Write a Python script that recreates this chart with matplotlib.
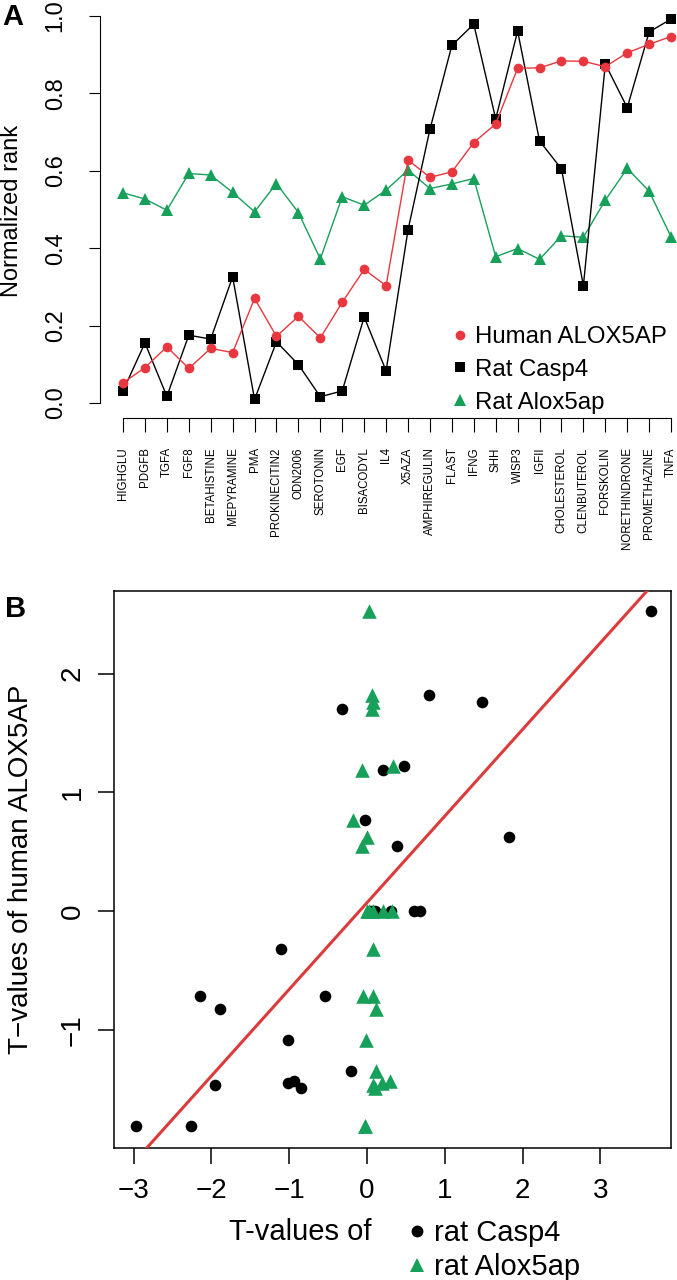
import matplotlib
matplotlib.use('Agg')
import matplotlib.pyplot as plt
import numpy as np
from matplotlib.lines import Line2D

plt.rcParams['font.family'] = ['Liberation Sans', 'DejaVu Sans']

# panel A: normalized ranks per treatment
treatments = ['HIGHGLU', 'PDGFB', 'TGFA', 'FGF8', 'BETAHISTINE', 'MEPYRAMINE', 'PMA',
              'PROKINECITIN2', 'ODN2006', 'SEROTONIN', 'EGF', 'BISACODYL', 'IL4', 'X5AZA',
              'AMPHIREGULIN', 'FLAST', 'IFNG', 'SHH', 'WISP3', 'IGFII', 'CHOLESTEROL',
              'CLENBUTEROL', 'FORSKOLIN', 'NORETHINDRONE', 'PROMETHAZINE', 'TNFA']
human_rank = [0.052, 0.091, 0.145, 0.089, 0.141, 0.130, 0.270, 0.172, 0.224, 0.168, 0.260,
              0.345, 0.303, 0.628, 0.583, 0.597, 0.673, 0.721, 0.865, 0.866, 0.884, 0.883,
              0.869, 0.905, 0.927, 0.947]
casp4_rank = [0.031, 0.155, 0.017, 0.175, 0.165, 0.326, 0.009, 0.158, 0.099, 0.016, 0.031,
              0.222, 0.083, 0.447, 0.707, 0.924, 0.979, 0.734, 0.961, 0.677, 0.605, 0.303,
              0.876, 0.763, 0.959, 0.992]
alox_rank = [0.543, 0.527, 0.498, 0.593, 0.589, 0.544, 0.494, 0.567, 0.492, 0.372, 0.533,
             0.511, 0.550, 0.602, 0.554, 0.566, 0.580, 0.378, 0.399, 0.371, 0.432, 0.428,
             0.524, 0.606, 0.547, 0.429]

# panel B: T-values
human_t = [2.53, 1.82, 1.76, 1.70, 1.22, 1.19, 0.77, 0.62, 0.55, 0.0, 0.0, 0.0, 0.0, 0.0,
           -0.32, -0.72, -0.72, -0.83, -1.09, -1.35, -1.43, -1.45, -1.47, -1.49, -1.81, -1.81]
casp4_t = [3.65, 0.80, 1.48, -0.32, 0.48, 0.20, -0.02, 1.83, 0.39, 0.10, 0.31, 0.61, 0.68, 0.05,
           -1.11, -2.15, -0.54, -1.89, -1.01, -0.20, -0.94, -1.01, -1.96, -0.85, -2.97, -2.26]
alox_t = [0.02, 0.06, 0.08, 0.06, 0.34, -0.07, -0.18, 0.00, -0.06, 0.02, 0.08, 0.21, 0.32, 0.0,
          0.08, -0.05, 0.08, 0.12, -0.01, 0.12, 0.30, 0.19, 0.08, 0.10, -0.03, -0.03]
fit_intercept = 0.07
fit_slope = 0.73

RED = '#e8373f'
GREEN = '#16a05a'
LINE_RED = '#dc3b3b'

W, H = 677, 1280
fig = plt.figure(figsize=(W / 100, H / 100), dpi=100)

# ---- panel A ----
axA = fig.add_axes([100 / W, 1 - 418 / H, 577 / W, (418 - 4.4) / H])
x = np.arange(len(treatments))
axA.plot(x, alox_rank, color=GREEN, marker='^', ms=8.5, lw=1, mew=0, zorder=2)
axA.plot(x, casp4_rank, color='black', marker='s', ms=6.5, lw=1, mew=0, zorder=3)
axA.plot(x, human_rank, color=RED, marker='o', ms=7, lw=1, mew=0, zorder=4)
axA.set_xlim(-1.05, 25.27)
axA.set_ylim(-0.039, 1.03)
for s in ['top', 'right']:
    axA.spines[s].set_visible(False)
axA.spines['left'].set_bounds(0, 1)
axA.spines['bottom'].set_bounds(0, len(treatments) - 1)
axA.set_xticks(x, treatments, rotation=90, fontsize=8.3)
axA.set_yticks([0, 0.2, 0.4, 0.6, 0.8, 1.0], ['0.0', '0.2', '0.4', '0.6', '0.8', '1.0'])
axA.tick_params(axis='x', length=10, pad=11)
axA.tick_params(axis='y', length=8, pad=16, labelsize=17, labelrotation=90)
for t in axA.get_yticklabels():
    t.set_va('center')
axA.set_ylabel('Normalized rank', fontsize=17)
axA.yaxis.set_label_coords((23 - 100) / 577, 0.5)
axA.legend(handles=[Line2D([], [], color=RED, marker='o', ls='none', ms=7, mew=0),
                    Line2D([], [], color='black', marker='s', ls='none', ms=6.5, mew=0),
                    Line2D([], [], color=GREEN, marker='^', ls='none', ms=8.5, mew=0)],
           labels=['Human ALOX5AP', 'Rat Casp4', 'Rat Alox5ap'],
           loc='upper left', bbox_to_anchor=(450 / W, 1 - 326 / H),
           bbox_transform=fig.transFigure, frameon=False, fontsize=17.3,
           borderpad=0, borderaxespad=0, handlelength=0.8, handletextpad=0.22,
           labelspacing=0.45)

# ---- panel B ----
axB = fig.add_axes([114 / W, 1 - 1148 / H, 557 / W, 557 / H])
axB.scatter(casp4_t, human_t, color='black', marker='o', s=70, lw=0, zorder=3)
axB.scatter(alox_t, human_t, color=GREEN, marker='^', s=110, lw=0, zorder=4)
axB.axline((0, fit_intercept), slope=fit_slope, color=LINE_RED, lw=2.2, zorder=5)
axB.set_xlim(-3.252, 3.907)
axB.set_ylim(-1.997, 2.696)
axB.set_xticks([-3, -2, -1, 0, 1, 2, 3])
axB.set_yticks([-1, 0, 1, 2])
for s in axB.spines.values():
    s.set_linewidth(1.1)
axB.tick_params(axis='both', length=11.5, width=1.1, labelsize=20)
axB.tick_params(axis='x', pad=10)
axB.tick_params(axis='y', pad=9, labelrotation=90)
for t in axB.get_yticklabels():
    t.set_va('center')
axB.set_ylabel('T\u2212values of human ALOX5AP', fontsize=20)
axB.yaxis.set_label_coords((34 - 114) / 557, 0.5)

fig.text(229 / W, 1 - 1240 / H, 'T-values of', fontsize=21, va='baseline')
axB.legend(handles=[Line2D([], [], color='black', marker='o', ls='none', ms=8.5, mew=0),
                    Line2D([], [], color=GREEN, marker='^', ls='none', ms=10.5, mew=0)],
           labels=['rat Casp4', 'rat Alox5ap'],
           loc='upper left', bbox_to_anchor=(405 / W, 1 - 1219 / H),
           bbox_transform=fig.transFigure, frameon=False, fontsize=21,
           borderpad=0, borderaxespad=0, handlelength=0.8, handletextpad=0.2,
           labelspacing=0.2)

fig.text(2 / W, 1 - 25 / H, 'A', fontsize=21, fontweight='bold', va='baseline')
fig.text(5 / W, 1 - 617 / H, 'B', fontsize=21, fontweight='bold', va='baseline')

fig.savefig('out.png', dpi=100)
